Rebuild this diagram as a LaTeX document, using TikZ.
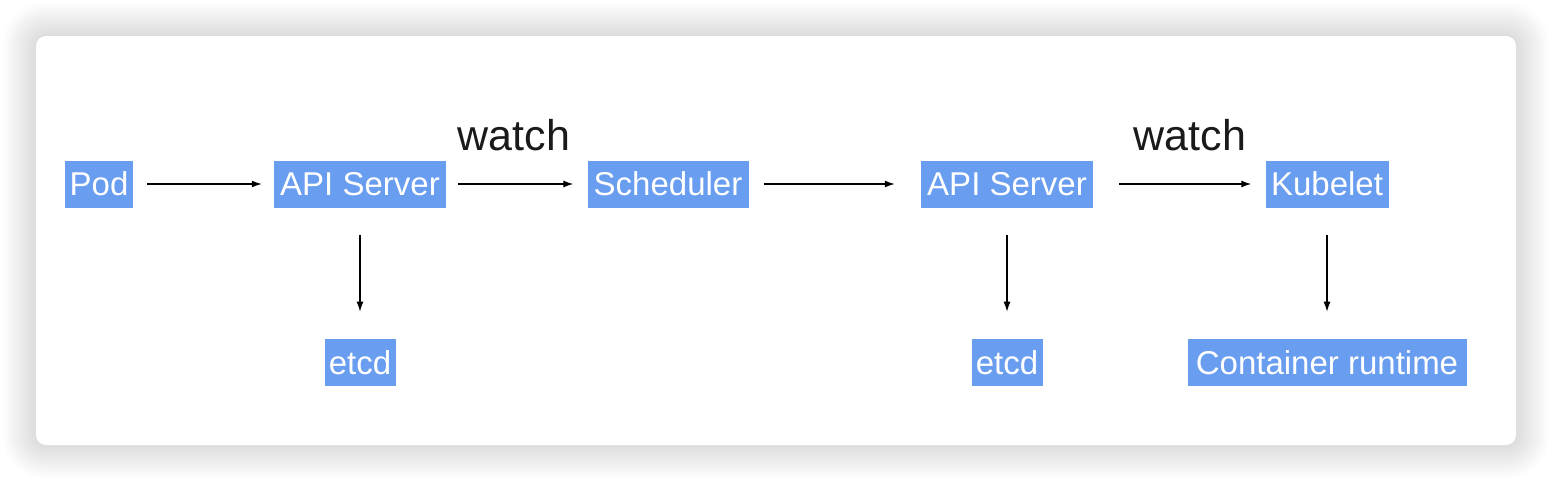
\documentclass[tikz,border=0pt]{standalone}
\usepackage{fontspec}
\setmainfont{Liberation Sans}
\usepackage{xcolor}
\usepackage{tikz}
\usetikzlibrary{arrows.meta,positioning}
\definecolor{kubeblue}{HTML}{699DF0}
\definecolor{labelgray}{HTML}{1A1A1A}

\begin{document}
\begin{tikzpicture}[
    x=1pt, y=-1pt,
    node distance=131pt,
    comp/.style={
        fill=kubeblue,
        text=white,
        inner xsep=4pt,
        inner ysep=0pt,
        minimum height=47pt,
        font=\fontsize{33}{38}\selectfont
    },
    watchlabel/.style={
        text=labelgray,
        inner sep=0pt,
        font=\fontsize{43}{50}\selectfont
    },
    arrow/.style={-{Latex[length=10pt,width=7pt]}, line width=1.3pt}
]
    \useasboundingbox (0,0) rectangle (1552,482);
    \fill[white] (0,0) rectangle (1552,482);
    % soft shadow round the card
    \foreach \s in {1,...,34}
        \fill[black, opacity=0.0035, rounded corners=10pt+\s pt]
            (36-\s,36-\s) rectangle (1516+\s,445+\s);
    \fill[white, rounded corners=10pt] (36,36) rectangle (1516,445);

    \node[comp, minimum width=68pt] (pod) at (99,184) {Pod};
    \node[comp, minimum width=172pt] (api1) at (360,184) {API Server};
    \node[comp, minimum width=161pt] (sched) at (668,184) {Scheduler};
    \node[comp, minimum width=172pt] (api2) at (1007,184) {API Server};
    \node[comp, minimum width=123pt] (kubelet) at (1327,184) {Kubelet};

    \node[comp, minimum width=71pt, below=of api1] (etcd1) {etcd};
    \node[comp, minimum width=71pt, below=of api2] (etcd2) {etcd};
    \node[comp, minimum width=279pt, below=of kubelet] (runtime) {Container runtime};

    \node[watchlabel] (watch1) at (514,135) {watch};
    \node[watchlabel] (watch2) at (1190,135) {watch};

    \draw[arrow, shorten <=14pt, shorten >=12pt] (pod) -- (api1);
    \draw[arrow, shorten <=12pt, shorten >=14pt] (api1) -- (sched);
    \draw[arrow, shorten <=15pt, shorten >=26pt] (sched) -- (api2);
    \draw[arrow, shorten <=26pt, shorten >=14pt] (api2) -- (kubelet);

    \draw[arrow, shorten <=27pt, shorten >=27pt] (api1) -- (etcd1);
    \draw[arrow, shorten <=27pt, shorten >=27pt] (api2) -- (etcd2);
    \draw[arrow, shorten <=27pt, shorten >=27pt] (kubelet) -- (runtime);
\end{tikzpicture}
\end{document}
